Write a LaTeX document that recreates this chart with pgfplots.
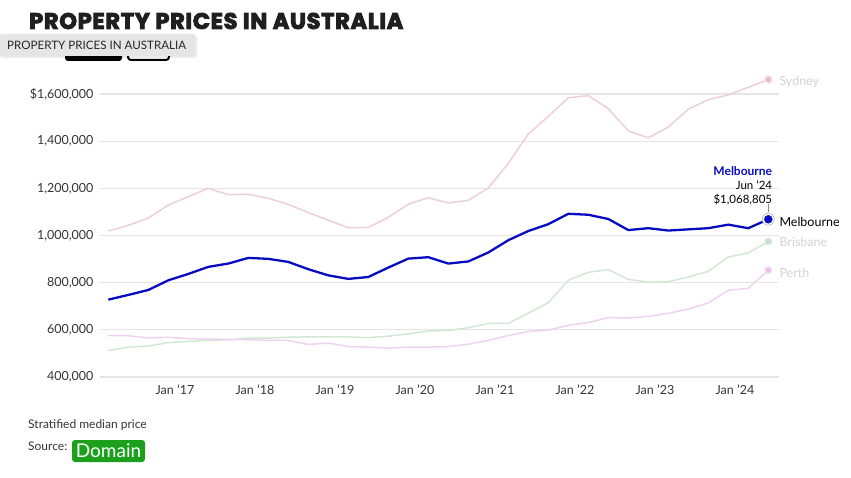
\documentclass[border=0pt]{standalone}
\usepackage{fontspec}
\setmainfont{Lato}
\newfontfamily\titlefont{Poppins}[BoldFeatures={FakeBold=4}, LetterSpace=3.2]
\usepackage{pgfplots}
\pgfplotsset{compat=1.18}
\definecolor{melcol}{RGB}{8,12,192}
\definecolor{sydcol}{RGB}{236,208,210}
\definecolor{sydmark}{RGB}{232,190,196}
\definecolor{briscol}{RGB}{210,232,212}
\definecolor{brismark}{RGB}{196,224,198}
\definecolor{perthcol}{RGB}{238,210,240}
\definecolor{perthmark}{RGB}{232,194,236}
\definecolor{gridcol}{RGB}{229,229,229}
\definecolor{txtcol}{RGB}{51,51,51}
\definecolor{lbl}{RGB}{210,210,210}
\definecolor{domgreen}{RGB}{28,160,28}
\begin{document}
\begin{tikzpicture}[x=1pt,y=1pt]
\path[use as bounding box] (0,0) rectangle (851,477);
% title
\node[anchor=west, inner sep=0pt, font=\titlefont\bfseries\fontsize{22.5}{24}\selectfont, text=black!88] at (29,456) {PROPERTY PRICES IN AUSTRALIA};
% partial buttons behind tooltip
\fill[black, rounded corners=3pt] (65,416) rectangle (122,432);
\draw[black, line width=2pt, rounded corners=3pt] (128,417) rectangle (169,431);
% tooltip
\fill[black, opacity=0.08, rounded corners=3pt] (0,419) rectangle (197,442);
\fill[black!10, rounded corners=2pt] (0,421) rectangle (195,443);
\node[anchor=west, inner sep=0pt, font=\fontsize{11.6}{13}\selectfont, text=black!85] at (7,432) {PROPERTY PRICES IN AUSTRALIA};
\begin{axis}[
  at={(100pt,100pt)}, anchor=south west, scale only axis,
  width=679pt, height=283pt,
  xmin=-0.415, xmax=33.535, ymin=400000, ymax=1600000,
  clip=false,
  axis line style={draw=none},
  major tick length=0pt,
  ymajorgrids, grid style={gridcol, line width=1.1pt},
  xtick={3.3333,7.3333,11.3333,15.3333,19.3333,23.3333,27.3333,31.3333},
  xticklabels={Jan '17,Jan '18,Jan '19,Jan '20,Jan '21,Jan '22,Jan '23,Jan '24},
  ytick={400000,600000,800000,1000000,1200000,1400000,1600000},
  yticklabels={{400,000},{600,000},{800,000},{1,000,000},{1,200,000},{1,400,000},{\$1,600,000}},
  scaled y ticks=false,
  /pgf/number format/assume math mode=true,
  tick label style={font=\fontsize{12.5}{14}\selectfont, text=txtcol},
  xticklabel style={yshift=-4pt},
  yticklabel style={xshift=-3pt},
]
\addplot[sydcol, line width=1.5pt] coordinates {
(0,1019000)(1,1043000)(2,1074000)(3,1129000)(4,1165000)(5,1200000)(6,1173000)(7,1175000)(8,1158000)(9,1132000)
(10,1097000)(11,1065000)(12,1033000)(13,1034000)(14,1077000)(15,1133000)(16,1160000)(17,1138000)(18,1149000)(19,1202000)
(20,1306000)(21,1430000)(22,1505000)(23,1584000)(24,1593000)(25,1538000)(26,1444000)(27,1414000)(28,1460000)(29,1536000)
(30,1576000)(31,1596000)(32,1628000)(33,1661000)};
\addplot[briscol, line width=1.5pt] coordinates {
(0,512000)(1,527000)(2,531000)(3,546000)(4,551000)(5,555000)(6,558000)(7,565000)(8,565000)(9,569000)
(10,570000)(11,570000)(12,570000)(13,567000)(14,573000)(15,583000)(16,595000)(17,597000)(18,609000)(19,627000)
(20,627000)(21,671000)(22,715000)(23,810000)(24,844000)(25,855000)(26,814000)(27,802000)(28,804000)(29,824000)
(30,848000)(31,909000)(32,926000)(33,975000)};
\addplot[perthcol, line width=1.5pt] coordinates {
(0,575000)(1,575000)(2,566000)(3,568000)(4,563000)(5,561000)(6,559000)(7,558000)(8,555000)(9,555000)
(10,538000)(11,544000)(12,529000)(13,527000)(14,522000)(15,527000)(16,527000)(17,529000)(18,539000)(19,555000)
(20,576000)(21,593000)(22,599000)(23,619000)(24,631000)(25,652000)(26,650000)(27,657000)(28,670000)(29,688000)
(30,714000)(31,768000)(32,776000)(33,853000)};
\addplot[melcol, line width=2.3pt] coordinates {
(0,728000)(1,748000)(2,769000)(3,810000)(4,837000)(5,867000)(6,881000)(7,905000)(8,901000)(9,888000)
(10,857000)(11,831000)(12,816000)(13,824000)(14,864000)(15,902000)(16,908000)(17,881000)(18,890000)(19,928000)
(20,980000)(21,1019000)(22,1048000)(23,1092000)(24,1088000)(25,1070000)(26,1023000)(27,1031000)(28,1021000)(29,1026000)
(30,1031000)(31,1046000)(32,1031000)(33,1068805)};
% end markers
\addplot[only marks, mark=*, mark size=3.6pt, mark options={fill=sydmark, draw=sydcol!60, line width=1.4pt}] coordinates {(33,1661000)};
\addplot[only marks, mark=*, mark size=3.6pt, mark options={fill=brismark, draw=briscol!60, line width=1.4pt}] coordinates {(33,975000)};
\addplot[only marks, mark=*, mark size=3.6pt, mark options={fill=perthmark, draw=perthcol!60, line width=1.4pt}] coordinates {(33,853000)};
\addplot[only marks, mark=*, mark size=6pt, mark options={fill=white, draw=black!25, line width=0.8pt}] coordinates {(33,1068805)};
\addplot[only marks, mark=*, mark size=4pt, mark options={fill=melcol, draw=melcol}] coordinates {(33,1068805)};
% right labels
\node[anchor=west, inner sep=0pt, text=lbl, font=\fontsize{12.5}{14}\selectfont] at (axis cs:33,1661000) [xshift=11pt, yshift=-2pt] {Sydney};
\node[anchor=west, inner sep=0pt, text=black, font=\fontsize{12.5}{14}\selectfont] at (axis cs:33,1068805) [xshift=11pt, yshift=-3pt] {Melbourne};
\node[anchor=west, inner sep=0pt, text=lbl, font=\fontsize{12.5}{14}\selectfont] at (axis cs:33,975000) [xshift=11pt, yshift=-1pt] {Brisbane};
\node[anchor=west, inner sep=0pt, text=lbl, font=\fontsize{12.5}{14}\selectfont] at (axis cs:33,853000) [xshift=11pt, yshift=-3pt] {Perth};
% tooltip annotation
\draw[black!45, line width=0.6pt] ([yshift=7pt]axis cs:33,1068805) -- ([yshift=15pt]axis cs:33,1068805);
\node[anchor=east, inner sep=0pt, text=black, font=\fontsize{11.5}{13}\selectfont] at (axis cs:33,1068805) [xshift=4pt, yshift=20pt] {\$1,068,805};
\node[anchor=east, inner sep=0pt, text=black, font=\fontsize{11.5}{13}\selectfont] at (axis cs:33,1068805) [xshift=4pt, yshift=34pt] {Jun '24};
\node[anchor=east, inner sep=0pt, text=melcol, font=\bfseries\fontsize{12}{14}\selectfont] at (axis cs:33,1068805) [xshift=4pt, yshift=48pt] {Melbourne};
\end{axis}
% footer
\node[anchor=west, inner sep=0pt, text=txtcol, font=\fontsize{12}{14}\selectfont] at (28,52) {Stratified median price};
\node[anchor=west, inner sep=0pt, text=txtcol, font=\fontsize{12}{14}\selectfont] at (28,31) {Source:};
\fill[domgreen, rounded corners=3pt] (72,15) rectangle (145,37);
\node[text=white, inner sep=0pt, font=\fontsize{19}{21}\selectfont] at (108.5,26) {Domain};
\end{tikzpicture}
\end{document}
